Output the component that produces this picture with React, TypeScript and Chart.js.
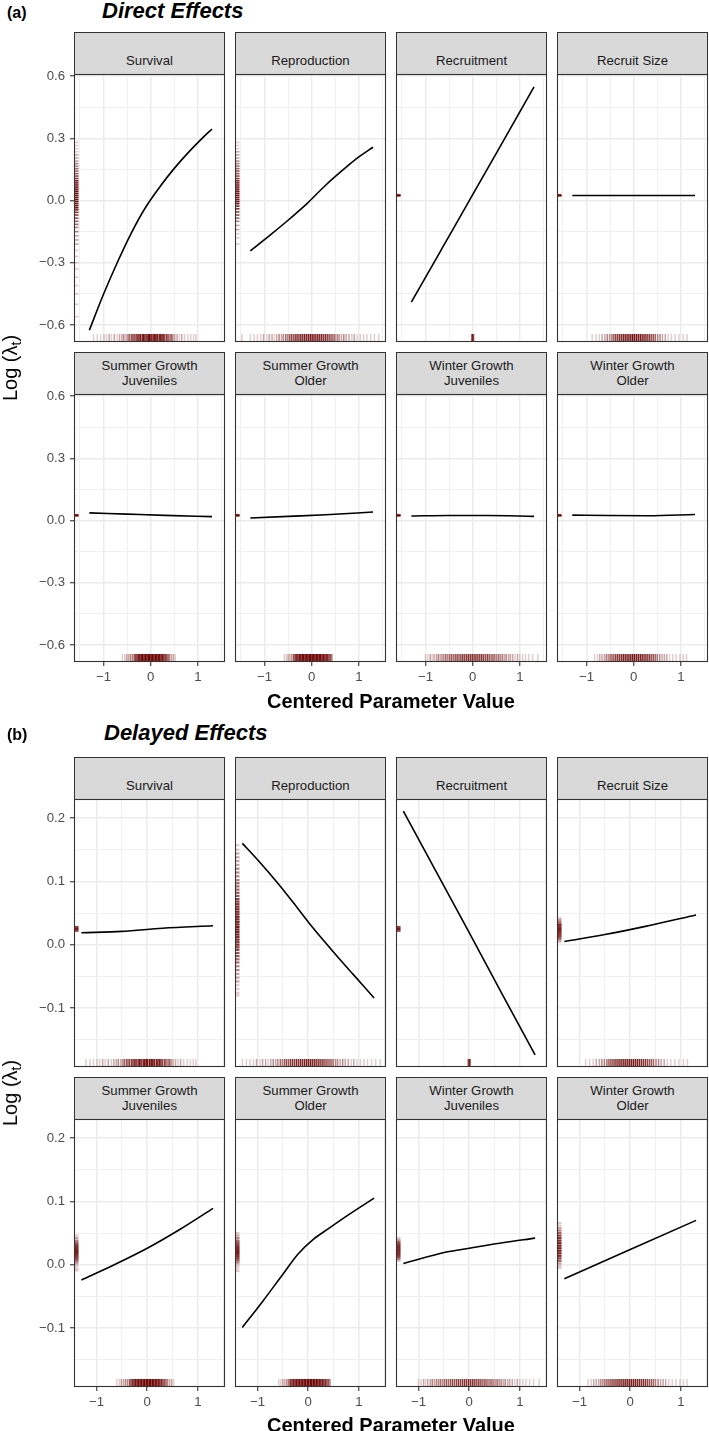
import React, { useEffect, useRef } from "react";
import { Chart, registerables } from "chart.js";

Chart.register(...registerables);

// ---------------- data ----------------
const facetLabels: string[][] = [
  ["", "Survival"],
  ["", "Reproduction"],
  ["", "Recruitment"],
  ["", "Recruit Size"],
  ["Summer Growth", "Juveniles"],
  ["Summer Growth", "Older"],
  ["Winter Growth", "Juveniles"],
  ["Winter Growth", "Older"],
];

// (a) Direct effects – fitted lines
const aSurvivalX = [-1.3, -1.0, -0.7, -0.4, -0.1, 0.2, 0.5, 0.8, 1.1, 1.3];
const aSurvivalY = [-0.625, -0.452, -0.295, -0.152, -0.03, 0.068, 0.155, 0.232, 0.302, 0.345];
const aReproX = [-1.3, -0.9, -0.5, -0.1, 0.3, 0.7, 1.0, 1.3];
const aReproY = [-0.243, -0.17, -0.095, -0.015, 0.075, 0.155, 0.21, 0.257];
const aRecruitX = [-1.3, -0.65, 0, 0.65, 1.3];
const aRecruitY = [-0.49, -0.231, 0.028, 0.288, 0.548];
const aRecruitSizeX = [-1.3, 0, 1.3];
const aRecruitSizeY = [0.024, 0.024, 0.024];
const aSumJuvX = [-1.3, -0.5, 0.3, 1.3];
const aSumJuvY = [0.037, 0.031, 0.025, 0.019];
const aSumOldX = [-1.3, -0.5, 0.3, 1.3];
const aSumOldY = [0.012, 0.02, 0.028, 0.041];
const aWinJuvX = [-1.3, -0.5, 0.3, 1.3];
const aWinJuvY = [0.022, 0.024, 0.024, 0.02];
const aWinOldX = [-1.3, -0.5, 0.3, 1.3];
const aWinOldY = [0.026, 0.024, 0.023, 0.029];

// (b) Delayed effects – fitted lines
const bSurvivalX = [-1.3, -0.5, 0.3, 1.3];
const bSurvivalY = [0.019, 0.021, 0.026, 0.03];
const bReproX = [-1.3, -1.0, -0.6, -0.3, 0, 0.3, 0.6, 0.9, 1.1, 1.3];
const bReproY = [0.16, 0.134, 0.097, 0.067, 0.036, 0.007, -0.021, -0.048, -0.066, -0.084];
const bRecruitX = [-1.3, -0.65, 0, 0.65, 1.3];
const bRecruitY = [0.211, 0.115, 0.019, -0.078, -0.174];
const bRecruitSizeX = [-1.3, -0.5, 0.3, 1.3];
const bRecruitSizeY = [0.005, 0.016, 0.029, 0.047];
const bSumJuvX = [-1.3, -0.65, 0, 0.65, 1.3];
const bSumJuvY = [-0.024, 0.0, 0.026, 0.056, 0.089];
const bSumOldX = [-1.3, -0.9, -0.5, -0.2, 0.1, 0.4, 0.8, 1.3];
const bSumOldY = [-0.099, -0.058, -0.015, 0.017, 0.04, 0.057, 0.079, 0.105];
const bWinJuvX = [-1.3, -0.45, 0, 0.6, 1.3];
const bWinJuvY = [0.002, 0.02, 0.026, 0.034, 0.042];
const bWinOldX = [-1.3, 0, 1.3];
const bWinOldY = [-0.022, 0.024, 0.07];

// rugs: [value, number of overplotted observations]
type Rug = [number, number][];

const rugXSurvival: Rug = [
  [-1.21, 1], [-1.13, 1], [-1.06, 1], [-0.99, 1], [-0.94, 1], [-0.88, 2], [-0.83, 1], [-0.77, 2],
  [-0.71, 1], [-0.66, 2], [-0.61, 2], [-0.57, 3], [-0.52, 2], [-0.48, 3], [-0.45, 4], [-0.41, 5],
  [-0.38, 4], [-0.35, 6], [-0.31, 7], [-0.28, 6], [-0.25, 8], [-0.22, 10], [-0.18, 9], [-0.15, 12],
  [-0.12, 10], [-0.08, 12], [-0.05, 11], [-0.02, 14], [0.01, 12], [0.05, 14], [0.08, 11], [0.11, 12],
  [0.14, 10], [0.18, 11], [0.21, 9], [0.24, 10], [0.27, 8], [0.3, 6], [0.34, 6], [0.37, 5],
  [0.41, 4], [0.44, 4], [0.47, 3], [0.51, 2], [0.56, 2], [0.61, 1], [0.66, 2], [0.72, 1],
  [0.79, 1], [0.85, 1], [0.91, 1], [0.96, 1],
];
const rugXRepro: Rug = [
  [-1.48, 1], [-1.3, 1], [-1.22, 1], [-1.15, 1], [-1.08, 1], [-1.02, 2], [-0.95, 1], [-0.9, 2],
  [-0.84, 2], [-0.79, 1], [-0.74, 2], [-0.69, 3], [-0.64, 2], [-0.6, 3], [-0.55, 4], [-0.51, 3],
  [-0.47, 5], [-0.43, 6], [-0.39, 5], [-0.35, 7], [-0.31, 8], [-0.27, 7], [-0.23, 9], [-0.19, 8],
  [-0.15, 10], [-0.11, 9], [-0.07, 10], [-0.03, 11], [0.01, 10], [0.05, 11], [0.09, 9], [0.13, 10],
  [0.17, 8], [0.21, 9], [0.25, 7], [0.29, 8], [0.33, 6], [0.37, 6], [0.41, 5], [0.45, 5],
  [0.49, 4], [0.54, 3], [0.58, 3], [0.63, 2], [0.68, 3], [0.73, 2], [0.79, 2], [0.85, 1],
  [0.9, 2], [0.96, 1], [1.03, 1], [1.1, 1], [1.17, 1], [1.25, 1], [1.33, 1], [1.42, 1],
];
const rugXRecruit: Rug = [[-0.02, 4], [0, 8], [0.02, 4]];
const rugXRecruitSize: Rug = [
  [-0.88, 1], [-0.8, 1], [-0.73, 1], [-0.67, 2], [-0.61, 2], [-0.56, 3], [-0.51, 3], [-0.46, 4],
  [-0.42, 5], [-0.38, 6], [-0.34, 6], [-0.3, 8], [-0.26, 8], [-0.22, 9], [-0.18, 10], [-0.14, 10],
  [-0.1, 11], [-0.06, 11], [-0.02, 12], [0.02, 11], [0.06, 12], [0.1, 10], [0.14, 11], [0.18, 9],
  [0.22, 9], [0.26, 8], [0.3, 7], [0.34, 6], [0.38, 5], [0.42, 5], [0.46, 4], [0.51, 3],
  [0.56, 3], [0.61, 2], [0.67, 2], [0.73, 1], [0.8, 1], [0.88, 1], [0.96, 1], [1.05, 1], [1.13, 1],
];
const rugXSumJuv: Rug = [
  [-0.6, 1], [-0.55, 1], [-0.51, 2], [-0.47, 2], [-0.43, 3], [-0.39, 3], [-0.35, 5], [-0.32, 6],
  [-0.29, 8], [-0.26, 10], [-0.23, 12], [-0.2, 14], [-0.17, 15], [-0.14, 16], [-0.11, 16], [-0.08, 18],
  [-0.05, 18], [-0.02, 20], [0.01, 20], [0.04, 18], [0.07, 18], [0.1, 16], [0.13, 16], [0.16, 14],
  [0.19, 13], [0.22, 12], [0.25, 10], [0.28, 8], [0.31, 6], [0.34, 5], [0.37, 4], [0.4, 3],
  [0.44, 2], [0.48, 2], [0.52, 1],
];
const rugXSumOld: Rug = [
  [-0.58, 1], [-0.54, 1], [-0.5, 2], [-0.46, 2], [-0.42, 3], [-0.38, 5], [-0.35, 7], [-0.32, 9],
  [-0.29, 10], [-0.26, 12], [-0.23, 13], [-0.2, 14], [-0.17, 15], [-0.14, 16], [-0.11, 16], [-0.08, 18],
  [-0.05, 18], [-0.02, 18], [0.01, 20], [0.04, 18], [0.07, 18], [0.1, 16], [0.13, 16], [0.16, 15],
  [0.19, 14], [0.22, 12], [0.25, 12], [0.28, 10], [0.31, 9], [0.34, 8], [0.37, 6], [0.4, 5], [0.43, 3],
];
const rugXWinJuv: Rug = [
  [-1.0, 1], [-0.95, 1], [-0.9, 2], [-0.86, 1], [-0.82, 2], [-0.77, 2], [-0.73, 3], [-0.69, 2],
  [-0.65, 3], [-0.61, 3], [-0.57, 4], [-0.53, 3], [-0.49, 4], [-0.45, 5], [-0.41, 4], [-0.37, 5],
  [-0.33, 6], [-0.29, 5], [-0.25, 6], [-0.21, 7], [-0.17, 6], [-0.13, 7], [-0.09, 8], [-0.05, 7],
  [-0.01, 8], [0.03, 7], [0.07, 8], [0.11, 7], [0.15, 6], [0.19, 7], [0.23, 6], [0.27, 5],
  [0.31, 6], [0.35, 5], [0.39, 4], [0.43, 5], [0.47, 4], [0.51, 3], [0.55, 4], [0.59, 3],
  [0.63, 3], [0.67, 2], [0.71, 3], [0.76, 2], [0.8, 2], [0.85, 2], [0.9, 1], [0.95, 2],
  [1.0, 1], [1.06, 1], [1.12, 1], [1.19, 1], [1.27, 1], [1.38, 1],
];
const rugXWinOld: Rug = [
  [-0.83, 1], [-0.77, 1], [-0.72, 2], [-0.67, 2], [-0.62, 2], [-0.58, 3], [-0.54, 3], [-0.5, 4],
  [-0.46, 5], [-0.42, 5], [-0.38, 6], [-0.34, 7], [-0.3, 7], [-0.26, 8], [-0.22, 9], [-0.18, 9],
  [-0.14, 10], [-0.1, 10], [-0.06, 11], [-0.02, 11], [0.02, 11], [0.06, 10], [0.1, 10], [0.14, 9],
  [0.18, 9], [0.22, 8], [0.26, 8], [0.3, 7], [0.34, 6], [0.38, 5], [0.42, 5], [0.46, 4],
  [0.5, 3], [0.55, 3], [0.6, 2], [0.65, 2], [0.7, 2], [0.76, 1], [0.83, 1], [0.9, 1],
  [0.98, 1], [1.05, 1], [1.12, 1],
];

const rugYSingle: Rug = [[0.022, 6], [0.025, 9], [0.028, 6]];
const rugYaSurvival: Rug = [
  [0.28, 1], [0.265, 1], [0.25, 1], [0.235, 1], [0.22, 2], [0.205, 2], [0.19, 2], [0.178, 3],
  [0.166, 3], [0.154, 4], [0.142, 4], [0.13, 5], [0.118, 6], [0.106, 7], [0.095, 9], [0.085, 10],
  [0.075, 11], [0.065, 12], [0.055, 13], [0.045, 14], [0.035, 14], [0.025, 15], [0.015, 14], [0.005, 14],
  [-0.005, 13], [-0.015, 12], [-0.025, 11], [-0.035, 10], [-0.045, 9], [-0.057, 7], [-0.07, 6], [-0.085, 5],
  [-0.1, 4], [-0.115, 4], [-0.13, 3], [-0.15, 3], [-0.17, 2], [-0.19, 2], [-0.21, 2], [-0.24, 1],
  [-0.27, 1], [-0.3, 1], [-0.33, 1], [-0.37, 1], [-0.41, 1], [-0.45, 1], [-0.5, 1], [-0.56, 1],
];
const rugYaRepro: Rug = [
  [0.28, 1], [0.265, 1], [0.25, 1], [0.235, 2], [0.22, 2], [0.205, 2], [0.19, 3], [0.178, 3],
  [0.166, 4], [0.154, 4], [0.142, 5], [0.13, 5], [0.118, 6], [0.106, 7], [0.095, 8], [0.085, 9],
  [0.075, 10], [0.065, 11], [0.055, 12], [0.045, 12], [0.035, 13], [0.025, 13], [0.015, 12], [0.005, 12],
  [-0.005, 11], [-0.015, 10], [-0.027, 9], [-0.04, 8], [-0.055, 6], [-0.07, 5], [-0.085, 4],
  [-0.1, 3], [-0.12, 2], [-0.14, 2], [-0.16, 1], [-0.18, 1], [-0.21, 1],
];
const rugYbRepro: Rug = [
  [0.157, 1], [0.15, 1], [0.144, 2], [0.138, 2], [0.132, 2], [0.126, 2], [0.12, 3], [0.114, 3],
  [0.108, 3], [0.102, 3], [0.097, 4], [0.092, 4], [0.087, 4], [0.082, 5], [0.077, 5], [0.072, 6],
  [0.068, 6], [0.064, 7], [0.06, 7], [0.056, 8], [0.052, 8], [0.048, 8], [0.044, 9], [0.04, 9],
  [0.036, 9], [0.032, 10], [0.028, 10], [0.024, 10], [0.02, 9], [0.016, 9], [0.012, 8], [0.008, 8],
  [0.004, 7], [0.0, 7], [-0.004, 6], [-0.008, 6], [-0.013, 5], [-0.018, 5], [-0.023, 4], [-0.028, 4],
  [-0.034, 3], [-0.04, 3], [-0.046, 2], [-0.052, 2], [-0.058, 2], [-0.064, 1], [-0.07, 1], [-0.076, 1], [-0.08, 1],
];
const rugYbRecruitSize: Rug = [
  [0.042, 1], [0.039, 2], [0.036, 3], [0.033, 4], [0.031, 6], [0.028, 7], [0.025, 9], [0.022, 9],
  [0.019, 8], [0.016, 7], [0.013, 6], [0.01, 4], [0.007, 2], [0.004, 1],
];
const rugYbSumJuv: Rug = [
  [0.046, 1], [0.042, 2], [0.038, 3], [0.035, 4], [0.032, 6], [0.029, 8], [0.026, 9], [0.023, 9],
  [0.02, 9], [0.017, 8], [0.014, 7], [0.011, 6], [0.008, 5], [0.005, 3], [0.002, 2], [-0.002, 1],
  [-0.006, 1], [-0.009, 1],
];
const rugYbSumOld: Rug = [
  [0.05, 1], [0.046, 2], [0.042, 3], [0.038, 4], [0.035, 5], [0.032, 6], [0.029, 8], [0.026, 9],
  [0.023, 9], [0.02, 9], [0.017, 8], [0.014, 7], [0.011, 6], [0.008, 5], [0.005, 3], [0.002, 2],
  [-0.002, 1], [-0.006, 1], [-0.01, 1],
];
const rugYbWinJuv: Rug = [
  [0.042, 1], [0.039, 2], [0.036, 4], [0.033, 6], [0.03, 8], [0.027, 9], [0.024, 10], [0.021, 9],
  [0.018, 8], [0.015, 7], [0.012, 5], [0.009, 3], [0.006, 1],
];
const rugYbWinOld: Rug = [
  [0.066, 1], [0.062, 1], [0.058, 2], [0.054, 3], [0.05, 4], [0.046, 6], [0.042, 7], [0.038, 8],
  [0.034, 9], [0.03, 9], [0.026, 10], [0.022, 9], [0.018, 9], [0.014, 8], [0.01, 6], [0.006, 4],
  [0.002, 2], [-0.002, 1], [-0.005, 1],
];

// axis ticks
const xMajorTicks = [-1, 0, 1];
const xMajorLabels = ["\u22121", "0", "1"];
const xMinorTicks = [-1.5, -0.5, 0.5, 1.5];
const yMajorTicksA = [-0.6, -0.3, 0, 0.3, 0.6];
const yMajorLabelsA = ["\u22120.6", "\u22120.3", "0.0", "0.3", "0.6"];
const yMinorTicksA = [-0.45, -0.15, 0.15, 0.45];
const yMajorTicksB = [-0.1, 0, 0.1, 0.2];
const yMajorLabelsB = ["\u22120.1", "0.0", "0.1", "0.2"];
const yMinorTicksB = [-0.15, -0.05, 0.05, 0.15];

// ---------------- styling / layout ----------------
const FONT = '"Liberation Sans", Arial, Helvetica, sans-serif';
const COL_LEFT = [74, 235, 396, 557];
const PLOT_W = 151;
const PLOT_H = 268;
const STRIP_H = 42;
const RUG_COLOR = "110,0,0";
const RUG_ALPHA = 0.2;

interface AxisSpec {
  xMin: number; xMax: number; yMin: number; yMax: number;
  yMajor: number[]; yLabels: string[]; yMinor: number[];
  rugWidthX: number; rugWidthY: number;
}

const axisA: AxisSpec = { xMin: -1.625, xMax: 1.575, yMin: -0.682, yMax: 0.61, yMajor: yMajorTicksA, yLabels: yMajorLabelsA, yMinor: yMinorTicksA, rugWidthX: 1.5, rugWidthY: 1.6 };
const axisB: AxisSpec = { xMin: -1.445, xMax: 1.535, yMin: -0.193, yMax: 0.23, yMajor: yMajorTicksB, yLabels: yMajorLabelsB, yMinor: yMinorTicksB, rugWidthX: 1.5, rugWidthY: 2.2 };

interface PanelData { x: number[]; y: number[]; rugX: Rug; rugY: Rug; }

const panelsA: PanelData[] = [
  { x: aSurvivalX, y: aSurvivalY, rugX: rugXSurvival, rugY: rugYaSurvival },
  { x: aReproX, y: aReproY, rugX: rugXRepro, rugY: rugYaRepro },
  { x: aRecruitX, y: aRecruitY, rugX: rugXRecruit, rugY: rugYSingle },
  { x: aRecruitSizeX, y: aRecruitSizeY, rugX: rugXRecruitSize, rugY: rugYSingle },
  { x: aSumJuvX, y: aSumJuvY, rugX: rugXSumJuv, rugY: rugYSingle },
  { x: aSumOldX, y: aSumOldY, rugX: rugXSumOld, rugY: rugYSingle },
  { x: aWinJuvX, y: aWinJuvY, rugX: rugXWinJuv, rugY: rugYSingle },
  { x: aWinOldX, y: aWinOldY, rugX: rugXWinOld, rugY: rugYSingle },
];
const panelsB: PanelData[] = [
  { x: bSurvivalX, y: bSurvivalY, rugX: rugXSurvival, rugY: rugYSingle },
  { x: bReproX, y: bReproY, rugX: rugXRepro, rugY: rugYbRepro },
  { x: bRecruitX, y: bRecruitY, rugX: rugXRecruit, rugY: rugYSingle },
  { x: bRecruitSizeX, y: bRecruitSizeY, rugX: rugXRecruitSize, rugY: rugYbRecruitSize },
  { x: bSumJuvX, y: bSumJuvY, rugX: rugXSumJuv, rugY: rugYbSumJuv },
  { x: bSumOldX, y: bSumOldY, rugX: rugXSumOld, rugY: rugYbSumOld },
  { x: bWinJuvX, y: bWinJuvY, rugX: rugXWinJuv, rugY: rugYbWinJuv },
  { x: bWinOldX, y: bWinOldY, rugX: rugXWinOld, rugY: rugYbWinOld },
];

const near = (v: number, arr: number[]) => arr.findIndex((m) => Math.abs(m - v) < 1e-9);

function Panel({ col, row, plotTop, axis, data }: { col: number; row: number; plotTop: number; axis: AxisSpec; data: PanelData }) {
  const ref = useRef<HTMLCanvasElement>(null);
  const padTop = 18;
  const padRight = 4;
  const padLeft = col === 0 ? 0 : 4;
  const padBottom = row === 1 ? 0 : 18;
  const axisW = col === 0 ? 74 : 0;
  const axisH = row === 1 ? 32 : 0;
  const cw = padLeft + axisW + PLOT_W + padRight;
  const ch = padTop + PLOT_H + axisH + padBottom;
  const cLeft = COL_LEFT[col] - padLeft - axisW;
  const cTop = plotTop - padTop;

  useEffect(() => {
    if (!ref.current) return;
    const xTicks = [...xMajorTicks, ...xMinorTicks].filter((v) => v >= axis.xMin && v <= axis.xMax).sort((a, b) => a - b);
    const yTicks = [...axis.yMajor, ...axis.yMinor].filter((v) => v >= axis.yMin && v <= axis.yMax).sort((a, b) => a - b);

    const gridColor = (majors: number[]) => (c: any) =>
      c.tick && near(c.tick.value, majors) >= 0 ? "#EBEBEB" : "#F0F0F0";
    const gridWidth = (majors: number[]) => (c: any) =>
      c.tick && near(c.tick.value, majors) >= 0 ? 1.5 : 1.0;
    const tickColor = (majors: number[]) => (c: any) =>
      c.tick && near(c.tick.value, majors) >= 0 ? "#333333" : "rgba(0,0,0,0)";

    const rugPlugin = {
      id: "rug",
      afterDatasetsDraw(chart: any) {
        const { ctx, chartArea: ca, scales } = chart;
        ctx.save();
        ctx.beginPath();
        ctx.rect(ca.left, ca.top, ca.right - ca.left, ca.bottom - ca.top);
        ctx.clip();
        const lenX = (ca.bottom - ca.top) * 0.03;
        const lenY = (ca.right - ca.left) * 0.03;
        ctx.lineWidth = axis.rugWidthX;
        for (const [v, n] of data.rugX) {
          const px = scales.x.getPixelForValue(v);
          ctx.strokeStyle = `rgba(${RUG_COLOR},${1 - Math.pow(1 - RUG_ALPHA, n)})`;
          ctx.beginPath();
          ctx.moveTo(px, ca.bottom);
          ctx.lineTo(px, ca.bottom - lenX);
          ctx.stroke();
        }
        ctx.lineWidth = axis.rugWidthY;
        for (const [v, n] of data.rugY) {
          const py = scales.y.getPixelForValue(v);
          ctx.strokeStyle = `rgba(${RUG_COLOR},${1 - Math.pow(1 - RUG_ALPHA, n)})`;
          ctx.beginPath();
          ctx.moveTo(ca.left, py);
          ctx.lineTo(ca.left + lenY, py);
          ctx.stroke();
        }
        ctx.restore();
      },
    };
    const borderPlugin = {
      id: "panelBorder",
      afterDraw(chart: any) {
        const { ctx, chartArea: ca } = chart;
        ctx.save();
        ctx.strokeStyle = "#333333";
        ctx.lineWidth = 1.1;
        ctx.strokeRect(ca.left + 0.5, ca.top + 0.5, ca.right - ca.left - 1, ca.bottom - ca.top - 1);
        ctx.restore();
      },
    };

    const chart = new Chart(ref.current, {
      type: "line",
      data: {
        datasets: [
          {
            data: data.x.map((x, i) => ({ x, y: data.y[i] })),
            borderColor: "#000000",
            borderWidth: 1.6,
            pointRadius: 0,
            fill: false,
            cubicInterpolationMode: "monotone",
          },
        ],
      },
      options: {
        animation: false,
        responsive: false,
        maintainAspectRatio: false,
        events: [],
        layout: { padding: { top: padTop, right: padRight, bottom: padBottom, left: padLeft } },
        plugins: { legend: { display: false }, tooltip: { enabled: false } },
        scales: {
          x: {
            type: "linear",
            min: axis.xMin,
            max: axis.xMax,
            afterBuildTicks: (s: any) => {
              s.ticks = xTicks.map((v) => ({ value: v }));
            },
            afterFit: (s: any) => {
              s.height = axisH;
            },
            border: { display: false },
            grid: {
              color: gridColor(xMajorTicks),
              lineWidth: gridWidth(xMajorTicks),
              drawTicks: row === 1,
              tickLength: 4,
              tickColor: tickColor(xMajorTicks),
              tickWidth: 1.1,
            },
            ticks: {
              display: row === 1,
              autoSkip: false,
              maxRotation: 0,
              padding: 3,
              color: "#4D4D4D",
              font: { family: FONT, size: 13.2 },
              callback: (v: any) => {
                const i = near(Number(v), xMajorTicks);
                return i >= 0 ? xMajorLabels[i] : "";
              },
            },
          },
          y: {
            type: "linear",
            min: axis.yMin,
            max: axis.yMax,
            afterBuildTicks: (s: any) => {
              s.ticks = yTicks.map((v) => ({ value: v }));
            },
            afterFit: (s: any) => {
              s.width = axisW;
            },
            border: { display: false },
            grid: {
              color: gridColor(axis.yMajor),
              lineWidth: gridWidth(axis.yMajor),
              drawTicks: col === 0,
              tickLength: 4,
              tickColor: tickColor(axis.yMajor),
              tickWidth: 1.1,
            },
            ticks: {
              display: col === 0,
              autoSkip: false,
              padding: 5,
              color: "#4D4D4D",
              font: { family: FONT, size: 13.2 },
              callback: (v: any) => {
                const i = near(Number(v), axis.yMajor);
                return i >= 0 ? axis.yLabels[i] : "";
              },
            },
          },
        },
      },
      plugins: [rugPlugin, borderPlugin],
    } as any);
    return () => chart.destroy();
  }, []);

  return (
    <canvas
      ref={ref}
      width={cw}
      height={ch}
      style={{ position: "absolute", left: cLeft, top: cTop, width: cw, height: ch }}
    />
  );
}

function Strip({ left, top, lines }: { left: number; top: number; lines: string[] }) {
  return (
    <div
      style={{
        position: "absolute",
        left,
        top,
        width: PLOT_W,
        height: STRIP_H + 1,
        boxSizing: "border-box",
        border: "1px solid #333333",
        background: "#D9D9D9",
        paddingTop: 5,
        textAlign: "center",
        color: "#1A1A1A",
        fontSize: 13.2,
        fontFamily: FONT,
      }}
    >
      {lines.map((l, i) => (
        <div key={i} style={{ height: 15, lineHeight: "15px", whiteSpace: "nowrap" }}>
          {l === "" ? "\u00a0" : l}
        </div>
      ))}
    </div>
  );
}

interface GroupSpec {
  tag: string;
  title: string;
  tagCy: number;
  titleCy: number;
  titleLeft: number;
  stripTops: number[];
  plotTops: number[];
  xTitleCy: number;
  yTitleCy: number;
  axis: AxisSpec;
  panels: PanelData[];
}

function Group({ g }: { g: GroupSpec }) {
  return (
    <>
      <div style={{ position: "absolute", left: 7, top: g.tagCy - 10, lineHeight: "20px", fontSize: 16, fontWeight: "bold", fontFamily: FONT, color: "#000" }}>
        {g.tag}
      </div>
      <div style={{ position: "absolute", left: g.titleLeft, top: g.titleCy - 13, lineHeight: "26px", fontSize: 22, fontWeight: "bold", fontStyle: "italic", fontFamily: FONT, color: "#000", whiteSpace: "nowrap" }}>
        {g.title}
      </div>
      {g.panels.map((p, i) => {
        const row = i < 4 ? 0 : 1;
        const col = i % 4;
        return <Strip key={"s" + i} left={COL_LEFT[col]} top={g.stripTops[row]} lines={facetLabels[i]} />;
      })}
      {g.panels.map((p, i) => {
        const row = i < 4 ? 0 : 1;
        const col = i % 4;
        return <Panel key={"p" + i} col={col} row={row} plotTop={g.plotTops[row]} axis={g.axis} data={p} />;
      })}
      <div style={{ position: "absolute", left: (COL_LEFT[0] + COL_LEFT[3] + PLOT_W) / 2, top: g.xTitleCy - 12, lineHeight: "24px", fontSize: 20, fontWeight: "bold", fontFamily: FONT, color: "#000", whiteSpace: "nowrap", transform: "translateX(-50%)" }}>
        Centered Parameter Value
      </div>
      <div style={{ position: "absolute", left: 10, top: g.yTitleCy, lineHeight: "24px", fontSize: 20, fontFamily: FONT, color: "#000", whiteSpace: "nowrap", transform: "translate(-50%, -50%) rotate(-90deg)" }}>
        Log (λ<sub style={{ fontSize: "0.7em", verticalAlign: "-0.3em", lineHeight: 0 }}>t</sub>)
      </div>
    </>
  );
}

const groupA: GroupSpec = {
  tag: "(a)", title: "Direct Effects", tagCy: 13, titleCy: 10.5, titleLeft: 102,
  stripTops: [32, 352], plotTops: [74, 394], xTitleCy: 701, yTitleCy: 368, axis: axisA, panels: panelsA,
};
const groupB: GroupSpec = {
  tag: "(b)", title: "Delayed Effects", tagCy: 735, titleCy: 733, titleLeft: 104,
  stripTops: [757, 1077], plotTops: [799, 1119], xTitleCy: 1425, yTitleCy: 1093, axis: axisB, panels: panelsB,
};

export default function App() {
  return (
    <div style={{ position: "absolute", left: 0, top: 0, width: 709, height: 1431, background: "#ffffff", overflow: "hidden", fontFamily: FONT }}>
      <Group g={groupA} />
      <Group g={groupB} />
    </div>
  );
}
